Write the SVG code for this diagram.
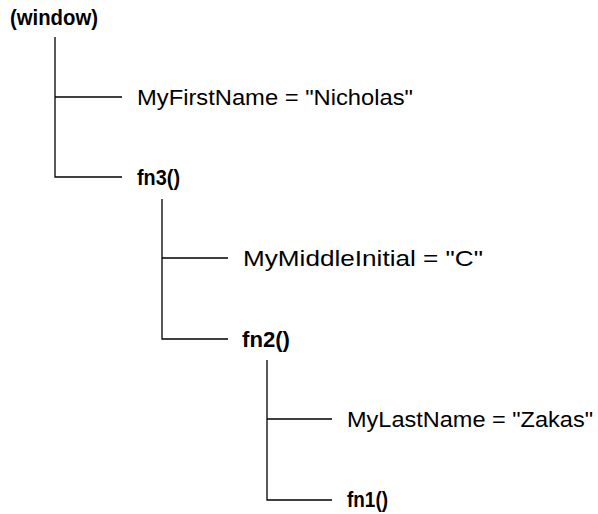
<svg xmlns="http://www.w3.org/2000/svg" width="598" height="514" viewBox="0 0 598 514">
<style>
.b{font-family:"Liberation Sans",Arial,sans-serif;font-weight:bold;font-size:22.5px;fill:#000}
.r{font-family:"Liberation Sans",Arial,sans-serif;font-size:22px;fill:#000}
.c{stroke:#000;stroke-width:1.3;fill:none}
</style>
<rect width="598" height="514" fill="#fff"/>
<g id="connectors">
<path class="c" d="M55 37V177H122M55 97H122"/>
<path class="c" d="M162 199V339H228M162 258H228"/>
<path class="c" d="M267 360V500H332M267 419H332"/>
</g>
<g id="window"><text class="b" x="10" y="25" textLength="88" lengthAdjust="spacingAndGlyphs">(window)</text></g>
<g id="myfirstname"><text class="r" x="137" y="105" textLength="276" lengthAdjust="spacingAndGlyphs">MyFirstName = "Nicholas"</text></g>
<g id="fn3"><text class="b" x="137" y="185" textLength="43" lengthAdjust="spacingAndGlyphs">fn3()</text></g>
<g id="mymiddleinitial"><text class="r" x="243" y="266" textLength="240" lengthAdjust="spacingAndGlyphs">MyMiddleInitial = "C"</text></g>
<g id="fn2"><text class="b" x="242" y="347" textLength="48" lengthAdjust="spacingAndGlyphs">fn2()</text></g>
<g id="mylastname"><text class="r" x="347" y="427" textLength="246" lengthAdjust="spacingAndGlyphs">MyLastName = "Zakas"</text></g>
<g id="fn1"><text class="b" x="347" y="507" textLength="41" lengthAdjust="spacingAndGlyphs">fn1()</text></g>
</svg>
